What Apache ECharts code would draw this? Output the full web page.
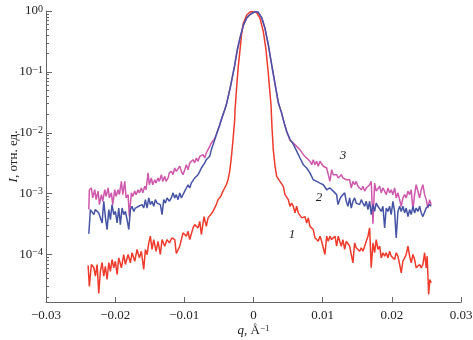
<!DOCTYPE html>
<html><head><meta charset="utf-8">
<script src="https://cdn.jsdelivr.net/npm/echarts@6/dist/echarts.min.js"></script>
<style>html,body{margin:0;padding:0;background:#fff}#c{width:473px;height:340px}</style>
</head><body><div id="c"></div>
<script>
// q (Å^-1), I (rel. units)
const curve1 = [
[-0.02391,6.6e-5],[-0.02373,3.0e-5],[-0.02344,6.86e-5],[-0.02309,6.12e-5],[-0.02286,4.4e-5],[-0.02261,6.86e-5],[-0.02237,2.29e-5],[-0.02214,5.3e-5],[-0.02189,7.39e-5],[-0.02165,4.4e-5],
[-0.02142,6.4e-5],[-0.02117,3.89e-5],[-0.02092,7.39e-5],[-0.02069,5.3e-5],[-0.02045,8.28e-5],[-0.02020,6.05e-5],[-0.01997,7.75e-5],[-0.01972,4.7e-5],[-0.01948,8.8e-5],[-0.01910,6.05e-5],
[-0.01876,1.0e-4],[-0.01852,6.86e-5],[-0.01813,1.0e-4],[-0.01780,7.3e-5],[-0.01756,1.07e-4],[-0.01717,7.75e-5],[-0.01683,1.21e-4],[-0.01650,8.8e-5],[-0.01621,1.13e-4],[-0.01587,5.68e-5],
[-0.01563,1.21e-4],[-0.01539,1.0e-4],[-0.01514,1.55e-4],[-0.01491,2.0e-4],[-0.01467,1.21e-4],[-0.01442,1.76e-4],[-0.01409,1.13e-4],[-0.01380,1.65e-4],[-0.01347,1.0e-4],[-0.01322,1.76e-4],
[-0.01283,1.37e-4],[-0.01250,1.76e-4],[-0.01217,1.55e-4],[-0.01178,1.88e-4],[-0.01139,1.76e-4],[-0.01116,1.04e-4],[-0.01066,1.37e-4],[-0.01019,2.27e-4],[-0.00971,2.0e-4],[-0.00946,2.4e-4],
[-0.00922,1.76e-4],[-0.00874,2.74e-4],[-0.00850,3.1e-4],[-0.00802,2.74e-4],[-0.00777,3.5e-4],[-0.00754,2.13e-4],[-0.00715,4.2e-4],[-0.00682,2.9e-4],[-0.00657,4.0e-4],[-0.00618,4.53e-4],
[-0.00585,5.1e-4],[-0.00538,6.6e-4],[-0.00513,7.97e-4],[-0.00474,9.0e-4],[-0.00441,1.10e-3],[-0.00416,1.03e-3],[-0.00393,1.40e-3],[-0.00368,1.69e-3],[-0.00344,2.32e-3],[-0.00321,3.85e-3],
[-0.00296,7.68e-3],[-0.00272,1.63e-2],[-0.00267,2.38e-2],[-0.00243,5.7e-2],[-0.00220,0.123],[-0.00195,0.229],[-0.00171,0.43],[-0.00147,0.63],[-0.00098,0.86],[-0.00051,0.963],
[-0.00022,0.98],[0.00007,0.963],[0.00046,0.94],[0.00094,0.76],[0.00142,0.458],[0.00181,0.229],[0.00214,0.095],[0.00238,0.045],[0.00253,0.0288],[0.00267,0.0125],
[0.00286,5.27e-3],[0.00311,2.82e-3],[0.00335,1.92e-3],[0.00383,1.59e-3],[0.00431,1.32e-3],[0.00455,9.63e-4],[0.00480,1.03e-3],[0.00503,7.97e-4],[0.00527,6.2e-4],[0.00552,7.0e-4],
[0.00575,6.2e-4],[0.00600,4.82e-4],[0.00624,6.2e-4],[0.00647,4.82e-4],[0.00672,4.53e-4],[0.00697,4.0e-4],[0.00744,4.2e-4],[0.00769,3.3e-4],[0.00792,4.0e-4],[0.00816,2.9e-4],
[0.00841,3.1e-4],[0.00864,2.57e-4],[0.00889,1.88e-4],[0.00913,2.0e-4],[0.00936,1.65e-4],[0.00961,2.0e-4],[0.00985,1.65e-4],[0.01009,1.76e-4],[0.01033,1.0e-4],[0.01058,2.0e-4],
[0.01081,1.65e-4],[0.01105,2.0e-4],[0.01130,1.76e-4],[0.01178,2.0e-4],[0.01202,1.37e-4],[0.01225,2.0e-4],[0.01269,1.37e-4],[0.01293,1.76e-4],[0.01318,1.21e-4],[0.01341,1.65e-4],
[0.01366,1.55e-4],[0.01390,1.37e-4],[0.01413,1.0e-4],[0.01438,7.3e-5],[0.01462,1.55e-4],[0.01485,1.29e-4],[0.01510,1.37e-4],[0.01535,1.13e-4],[0.01558,1.29e-4],[0.01582,1.13e-4],
[0.01607,1.37e-4],[0.01630,1.65e-4],[0.01655,2.0e-4],[0.01679,2.74e-4],[0.01702,6.05e-5],[0.01727,1.55e-4],[0.01751,1.07e-4],[0.01774,1.76e-4],[0.01799,1.21e-4],[0.01824,1.37e-4],
[0.01847,8.8e-5],[0.01871,1.07e-4],[0.01896,9.4e-5],[0.01919,1.07e-4],[0.01944,8.8e-5],[0.01968,1.13e-4],[0.01991,9.4e-5],[0.02016,1.0e-4],[0.02040,8.28e-5],[0.02063,1.07e-4],
[0.02088,9.4e-5],[0.02113,6.86e-5],[0.02136,5.0e-5],[0.02160,7.75e-5],[0.02185,8.8e-5],[0.02208,1.0e-4],[0.02233,1.37e-4],[0.02257,9.4e-5],[0.02280,7.3e-5],[0.02305,1.0e-4],
[0.02329,8.28e-5],[0.02352,6.05e-5],[0.02377,5.68e-5],[0.02402,6.86e-5],[0.02425,6.05e-5],[0.02449,6.86e-5],[0.02474,1.07e-4],[0.02497,6.05e-5],[0.02511,9.4e-5],[0.02532,2.21e-5],
[0.02550,3.89e-5],[0.02569,3.43e-5]
];
const curve2 = [
[-0.02381,2.19e-4],[-0.02358,5.47e-4],[-0.02334,5.8e-4],[-0.02309,4.53e-4],[-0.02286,5.47e-4],[-0.02261,5.8e-4],[-0.02237,4.82e-4],[-0.02214,5.1e-4],[-0.02189,3.3e-4],[-0.02165,7.5e-4],
[-0.02142,4.2e-4],[-0.02117,2.57e-4],[-0.02092,5.47e-4],[-0.02069,3.75e-4],[-0.02045,6.6e-4],[-0.02020,4.53e-4],[-0.01997,5.1e-4],[-0.01972,3.3e-4],[-0.01948,5.8e-4],[-0.01925,3.1e-4],
[-0.01900,5.8e-4],[-0.01876,4.53e-4],[-0.01852,5.1e-4],[-0.01828,3.75e-4],[-0.01803,2.57e-4],[-0.01780,5.47e-4],[-0.01756,6.2e-4],[-0.01731,5.1e-4],[-0.01708,5.8e-4],[-0.01683,5.47e-4],
[-0.01659,6.2e-4],[-0.01636,5.8e-4],[-0.01611,6.6e-4],[-0.01587,5.8e-4],[-0.01563,7.97e-4],[-0.01539,5.8e-4],[-0.01514,8.5e-4],[-0.01491,6.6e-4],[-0.01467,7.5e-4],[-0.01442,6.2e-4],
[-0.01419,7.97e-4],[-0.01394,7.0e-4],[-0.01370,7.5e-4],[-0.01347,6.6e-4],[-0.01322,4.53e-4],[-0.01298,7.97e-4],[-0.01275,7.0e-4],[-0.01250,8.5e-4],[-0.01217,7.5e-4],[-0.01188,8.5e-4],
[-0.01163,1.03e-3],[-0.01139,8.5e-4],[-0.01116,9.63e-4],[-0.01091,7.97e-4],[-0.01066,1.03e-3],[-0.01043,8.5e-4],[-0.01019,7.97e-4],[-0.00994,1.10e-3],[-0.00971,1.16e-3],[-0.00946,1.40e-3],
[-0.00922,1.24e-3],[-0.00899,1.49e-3],[-0.00874,1.59e-3],[-0.00850,1.81e-3],[-0.00827,1.92e-3],[-0.00802,2.05e-3],[-0.00777,2.32e-3],[-0.00754,2.64e-3],[-0.00730,2.82e-3],[-0.00705,3.2e-3],
[-0.00682,3.61e-3],[-0.00657,3.85e-3],[-0.00633,4.1e-3],[-0.00610,5.27e-3],[-0.00585,6.36e-3],[-0.00561,7.68e-3],[-0.00538,9.27e-3],[-0.00513,1.12e-2],[-0.00488,1.35e-2],[-0.00465,1.63e-2],
[-0.00441,1.97e-2],[-0.00416,2.38e-2],[-0.00393,2.88e-2],[-0.00334,5.68e-2],[-0.00275,0.123],[-0.00234,0.229],[-0.00195,0.361],[-0.00147,0.58],[-0.00098,0.77],[-0.00051,0.875],
[-0.00003,0.945],[0.00032,0.97],[0.00069,0.95],[0.00118,0.78],[0.00166,0.52],[0.00214,0.277],[0.00263,0.13],[0.00311,0.0635],[0.00358,0.0315],[0.00407,0.021],
[0.00431,0.0163],[0.00480,0.0105],[0.00527,7.8e-3],[0.00575,6.5e-3],[0.00624,5.0e-3],[0.00672,3.85e-3],[0.00720,2.99e-3],[0.00769,2.64e-3],[0.00816,2.19e-3],[0.00864,1.69e-3],
[0.00913,1.59e-3],[0.00961,1.49e-3],[0.01009,1.40e-3],[0.01058,1.16e-3],[0.01105,1.24e-3],[0.01153,1.10e-3],[0.01202,9.63e-4],[0.01221,6.6e-4],[0.01246,7.97e-4],[0.01269,9.0e-4],
[0.01293,8.5e-4],[0.01318,1.03e-3],[0.01341,7.5e-4],[0.01366,6.2e-4],[0.01390,8.5e-4],[0.01413,5.8e-4],[0.01438,7.5e-4],[0.01462,8.5e-4],[0.01485,7.0e-4],[0.01510,7.5e-4],
[0.01535,6.6e-4],[0.01558,7.97e-4],[0.01582,7.0e-4],[0.01607,6.2e-4],[0.01630,7.5e-4],[0.01655,5.47e-4],[0.01679,7.5e-4],[0.01702,4.53e-4],[0.01727,6.6e-4],[0.01751,5.1e-4],
[0.01774,7.0e-4],[0.01799,6.2e-4],[0.01824,6.6e-4],[0.01847,5.1e-4],[0.01871,6.2e-4],[0.01896,2.74e-4],[0.01919,5.8e-4],[0.01944,5.1e-4],[0.01968,6.2e-4],[0.01991,4.53e-4],
[0.02016,7.5e-4],[0.02040,5.1e-4],[0.02063,1.88e-4],[0.02088,5.1e-4],[0.02113,6.2e-4],[0.02136,5.1e-4],[0.02160,6.2e-4],[0.02185,4.82e-4],[0.02208,5.8e-4],[0.02233,4.2e-4],
[0.02257,5.47e-4],[0.02280,4.53e-4],[0.02305,6.2e-4],[0.02329,4.82e-4],[0.02352,5.8e-4],[0.02377,5.1e-4],[0.02402,6.2e-4],[0.02425,4.82e-4],[0.02449,4.2e-4],[0.02474,4.53e-4],
[0.02497,5.8e-4],[0.02522,5.47e-4],[0.02546,6.6e-4],[0.02569,6.2e-4]
];
const curve3 = [
[-0.02381,5.47e-4],[-0.02373,1.16e-3],[-0.02344,1.24e-3],[-0.02324,8.5e-4],[-0.02295,1.16e-3],[-0.02276,7.97e-4],[-0.02247,1.10e-3],[-0.02228,6.6e-4],[-0.02199,9.63e-4],[-0.02179,7.5e-4],
[-0.02150,1.16e-3],[-0.02131,9.0e-4],[-0.02102,1.24e-3],[-0.02084,8.5e-4],[-0.02055,1.03e-3],[-0.02035,6.6e-4],[-0.02006,1.16e-3],[-0.01987,9.0e-4],[-0.01958,1.16e-3],[-0.01939,9.63e-4],
[-0.01910,1.59e-3],[-0.01890,9.63e-4],[-0.01861,1.59e-3],[-0.01842,8.5e-4],[-0.01813,9.63e-4],[-0.01795,4.2e-4],[-0.01766,1.03e-3],[-0.01746,9.0e-4],[-0.01717,1.10e-3],[-0.01698,9.63e-4],
[-0.01669,1.16e-3],[-0.01650,1.03e-3],[-0.01621,1.24e-3],[-0.01601,1.03e-3],[-0.01572,1.32e-3],[-0.01553,1.16e-3],[-0.01524,2.19e-3],[-0.01506,1.40e-3],[-0.01477,1.81e-3],[-0.01457,1.40e-3],
[-0.01428,1.69e-3],[-0.01409,1.49e-3],[-0.01380,1.81e-3],[-0.01361,1.59e-3],[-0.01332,2.05e-3],[-0.01312,1.59e-3],[-0.01283,1.92e-3],[-0.01264,1.59e-3],[-0.01235,1.81e-3],[-0.01217,2.19e-3],
[-0.01188,2.32e-3],[-0.01163,2.05e-3],[-0.01139,2.64e-3],[-0.01116,2.32e-3],[-0.01091,2.47e-3],[-0.01066,2.82e-3],[-0.01043,2.32e-3],[-0.01019,2.05e-3],[-0.00994,2.47e-3],[-0.00971,2.99e-3],
[-0.00946,2.47e-3],[-0.00922,3.2e-3],[-0.00899,2.99e-3],[-0.00874,3.61e-3],[-0.00850,3.2e-3],[-0.00827,3.85e-3],[-0.00802,3.4e-3],[-0.00777,4.1e-3],[-0.00754,3.85e-3],[-0.00730,4.36e-3],
[-0.00705,3.85e-3],[-0.00682,4.65e-3],[-0.00657,4.36e-3],[-0.00633,5.97e-3],[-0.00610,6.8e-3],[-0.00585,7.2e-3],[-0.00561,7.97e-3],[-0.00538,9.27e-3],[-0.00513,1.12e-2],[-0.00488,1.35e-2],
[-0.00465,1.63e-2],[-0.00441,1.97e-2],[-0.00416,2.38e-2],[-0.00393,2.88e-2],[-0.00334,5.68e-2],[-0.00275,0.123],[-0.00234,0.229],[-0.00195,0.361],[-0.00147,0.58],[-0.00098,0.77],
[-0.00051,0.875],[-0.00003,0.945],[0.00032,0.97],[0.00069,0.95],[0.00118,0.78],[0.00166,0.52],[0.00214,0.277],[0.00263,0.13],[0.00311,0.0635],[0.00358,0.0315],
[0.00407,0.021],[0.00431,0.0163],[0.00480,1.05e-2],[0.00527,7.5e-3],[0.00575,6.8e-3],[0.00624,5.97e-3],[0.00672,5.27e-3],[0.00720,4.36e-3],[0.00744,4.65e-3],[0.00769,3.85e-3],
[0.00792,4.1e-3],[0.00816,3.4e-3],[0.00841,2.99e-3],[0.00864,3.61e-3],[0.00889,2.99e-3],[0.00913,3.4e-3],[0.00936,2.82e-3],[0.00961,3.4e-3],[0.00985,3.2e-3],[0.01009,2.82e-3],
[0.01033,2.99e-3],[0.01058,2.64e-3],[0.01081,2.05e-3],[0.01105,1.59e-3],[0.01130,2.47e-3],[0.01153,2.05e-3],[0.01178,1.92e-3],[0.01202,2.05e-3],[0.01225,1.81e-3],[0.01250,1.92e-3],
[0.01269,2.05e-3],[0.01293,1.81e-3],[0.01318,1.92e-3],[0.01341,1.69e-3],[0.01366,1.59e-3],[0.01390,1.69e-3],[0.01413,1.24e-3],[0.01438,1.59e-3],[0.01462,1.40e-3],[0.01485,1.59e-3],
[0.01510,1.32e-3],[0.01535,1.40e-3],[0.01558,1.16e-3],[0.01582,1.32e-3],[0.01607,1.10e-3],[0.01630,1.24e-3],[0.01655,1.16e-3],[0.01679,1.40e-3],[0.01702,1.59e-3],[0.01727,3.2e-4],
[0.01751,1.49e-3],[0.01774,1.10e-3],[0.01799,1.16e-3],[0.01824,1.32e-3],[0.01847,1.03e-3],[0.01871,1.24e-3],[0.01896,1.10e-3],[0.01919,9.63e-4],[0.01944,1.24e-3],[0.01968,1.03e-3],
[0.01991,1.16e-3],[0.02016,9.63e-4],[0.02040,1.24e-3],[0.02063,8.5e-4],[0.02088,1.03e-3],[0.02113,9.63e-4],[0.02136,6.2e-4],[0.02160,8.5e-4],[0.02185,9.63e-4],[0.02208,8.5e-4],
[0.02233,1.10e-3],[0.02257,9.63e-4],[0.02280,1.16e-3],[0.02305,5.47e-4],[0.02329,9.63e-4],[0.02352,1.40e-3],[0.02377,1.32e-3],[0.02402,8.5e-4],[0.02425,1.16e-3],[0.02449,1.40e-3],
[0.02474,9.63e-4],[0.02497,7.97e-4],[0.02522,5.8e-4],[0.02546,7.97e-4],[0.02569,6.6e-4]
];
const curveLabels = ['1', '2', '3'];
const labelAt = [[0.00556, 2.13e-4], [0.00946, 8.6e-4], [0.01293, 4.2e-3]];
const xTicks = [-0.03, -0.02, -0.01, 0, 0.01, 0.02, 0.03];
const yMajor = [1e-4, 1e-3, 1e-2, 1e-1, 1];
const yMinor = [];
[1e-5, 1e-4, 1e-3, 1e-2, 1e-1].forEach(d => { for (let k = 2; k <= 9; k++) yMinor.push(+(k * d).toPrecision(3)); });
const yMin = 1.66e-5, yMax = 1;

const FONT = '"Liberation Serif","DejaVu Serif",serif';
const colors = ['#ee3b2b', '#4654a6', '#cf58ac'];
const chart = echarts.init(document.getElementById('c'), null, { renderer: 'canvas' });
function supExp(v) {
  const l = Math.log10(v), e = Math.round(l);
  if (Math.abs(l - e) > 1e-6) return '';
  return '{b|10}{s|' + (e < 0 ? '\u2212' + (-e) : String(e)) + '}';
}
function mkSeries(data, i) {
  return {
    type: 'line', data: data, showSymbol: false, symbol: 'none',
    lineStyle: { color: colors[i], width: 1.5 }, itemStyle: { color: colors[i] },
    z: i === 0 ? 2 : (i === 1 ? 4 : 3), animation: false,
    markPoint: {
      symbol: 'circle', symbolSize: 0, silent: true,
      label: { show: true, position: 'inside', formatter: curveLabels[i], fontFamily: FONT, fontStyle: 'italic', fontSize: 13, color: '#222' },
      data: [{ coord: labelAt[i] }]
    }
  };
}
chart.setOption({
  animation: false,
  backgroundColor: '#fff',
  grid: { left: 46, right: 12, top: 11, bottom: 38, containLabel: false, outerBoundsMode: 'none' },
  xAxis: {
    type: 'value', min: -0.03, max: 0.03, interval: 0.01,
    axisLine: { lineStyle: { color: '#666', width: 1 } },
    axisTick: { inside: true, length: 5, lineStyle: { color: '#666' } },
    splitLine: { show: false },
    axisLabel: {
      fontFamily: FONT, fontSize: 13, color: '#222', margin: 7,
      formatter: v => Math.abs(v) < 1e-9 ? '0' : (v < 0 ? '\u2212' : '') + Math.abs(v).toFixed(2)
    },
    name: '{i|q}, Å{s|\u22121}', nameLocation: 'middle', nameGap: 22, nameMoveOverlap: false,
    nameTextStyle: {
      fontFamily: FONT, fontSize: 13, color: '#222',
      rich: { i: { fontFamily: FONT, fontStyle: 'italic', fontSize: 13, color: '#222' },
              s: { fontFamily: FONT, fontSize: 9, color: '#222', verticalAlign: 'top', lineHeight: 10 } }
    }
  },
  yAxis: [{
    type: 'log', logBase: 10, min: yMin, max: yMax,
    axisLine: { onZero: false, lineStyle: { color: '#666', width: 1 } },
    axisTick: { inside: true, length: 6, lineStyle: { color: '#666' }, customValues: yMajor },
    splitLine: { show: false },
    axisLabel: {
      customValues: yMajor, formatter: supExp, margin: 3,
      fontFamily: FONT, fontSize: 13, color: '#222',
      rich: { b: { fontFamily: FONT, fontSize: 13, color: '#222', lineHeight: 14 },
              s: { fontFamily: FONT, fontSize: 10, color: '#222', verticalAlign: 'top', lineHeight: 10 } }
    },
    name: '{i|I}, отн. ед.', nameLocation: 'middle', nameGap: 26, nameRotate: 90, nameMoveOverlap: false,
    nameTextStyle: { fontFamily: FONT, fontSize: 13, color: '#222',
      rich: { i: { fontFamily: FONT, fontStyle: 'italic', fontSize: 13, color: '#222' } } }
  }, {
    type: 'log', logBase: 10, min: yMin, max: yMax, position: 'left', offset: 0,
    axisLine: { show: false, onZero: false },
    axisTick: { inside: true, length: 3, lineStyle: { color: '#666' }, customValues: yMinor },
    axisLabel: { show: false },
    splitLine: { show: false }
  }],
  series: [mkSeries(curve1, 0), mkSeries(curve3, 2), mkSeries(curve2, 1)]
});
</script></body></html>
